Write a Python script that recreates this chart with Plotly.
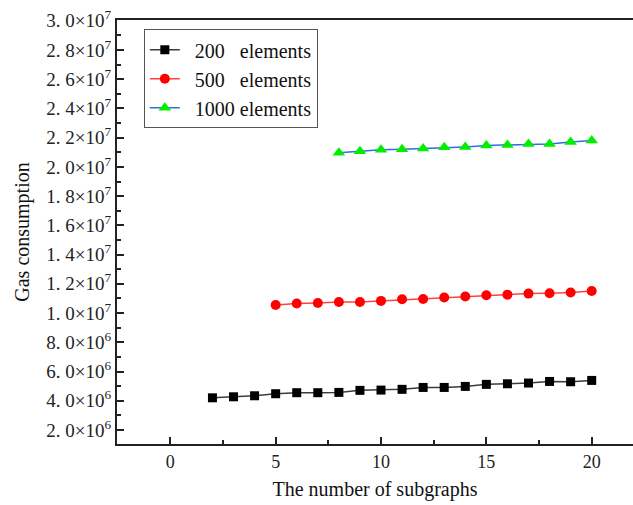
import plotly.graph_objects as go

# Data
x200 = list(range(2, 21))
y200 = [4.20e6, 4.27e6, 4.34e6, 4.48e6, 4.55e6, 4.55e6, 4.57e6, 4.71e6, 4.73e6, 4.78e6,
        4.91e6, 4.91e6, 4.98e6, 5.12e6, 5.16e6, 5.21e6, 5.32e6, 5.30e6, 5.39e6]

x500 = list(range(5, 21))
y500 = [10.55e6, 10.65e6, 10.69e6, 10.76e6, 10.76e6, 10.83e6, 10.94e6, 10.96e6,
        11.06e6, 11.13e6, 11.22e6, 11.26e6, 11.33e6, 11.35e6, 11.40e6, 11.51e6]

x1000 = list(range(8, 21))
y1000 = [20.96e6, 21.07e6, 21.18e6, 21.20e6, 21.25e6, 21.34e6, 21.36e6, 21.47e6,
         21.50e6, 21.57e6, 21.57e6, 21.71e6, 21.80e6]

NB = "\u00a0"
series_names = [NB * 2 + "200" + NB * 3 + "elements",
                NB * 2 + "500" + NB * 3 + "elements",
                NB * 2 + "1000 elements"]

x_ticks = [0, 5, 10, 15, 20]
y_ticks = [v * 1e6 for v in range(2, 31, 2)]


def sci_label(v):
    if v < 1e7:
        return f"{v/1e6:.1f}".replace(".", ". ") + "×10<sup>6</sup>"
    return f"{v/1e7:.1f}".replace(".", ". ") + "×10<sup>7</sup>"


y_ticktext = [sci_label(v) for v in y_ticks]

FONT = "Liberation Serif"

fig = go.Figure()
fig.add_trace(go.Scatter(
    x=x200, y=y200, name=series_names[0], mode="lines+markers",
    line=dict(color="#3c3c3c", width=1.5),
    marker=dict(symbol="square", size=9, color="#000000"),
))
fig.add_trace(go.Scatter(
    x=x500, y=y500, name=series_names[1], mode="lines+markers",
    line=dict(color="#ff4040", width=1.5),
    marker=dict(symbol="circle", size=10, color="#ff0000"),
))
fig.add_trace(go.Scatter(
    x=x1000, y=y1000, name=series_names[2], mode="lines+markers",
    line=dict(color="#2f6fe0", width=1.5),
    marker=dict(symbol="triangle-up", size=11, color="#00ee00"),
))

fig.update_layout(
    width=633, height=505,
    margin=dict(l=117, r=0, t=20, b=61, autoexpand=False),
    paper_bgcolor="white", plot_bgcolor="white",
    font=dict(family=FONT, size=18, color="#222222"),
    showlegend=True,
    legend=dict(
        x=0.052, y=0.978, xanchor="left", yanchor="top",
        bordercolor="#555555", borderwidth=1, bgcolor="white",
        font=dict(family=FONT, size=20, color="#111111"),
        tracegroupgap=0, itemwidth=30,
        entrywidth=150, entrywidthmode="pixels",
    ),
    xaxis=dict(
        range=[-2.53, 21.96], automargin=False,
        tickmode="array", tickvals=x_ticks,
        ticks="inside", ticklen=7, tickwidth=1.5, tickcolor="#222222",
        showline=True, linecolor="#222222", linewidth=2, mirror=True,
        showgrid=False, zeroline=False,
        minor=dict(ticks="inside", ticklen=4, tickwidth=1.5, tickcolor="#222222",
                   tick0=0, dtick=2.5, showgrid=False),
        title=dict(text="The number of subgraphs", font=dict(family=FONT, size=20, color="#111111"),
                   standoff=11),
        tickfont=dict(family=FONT, size=18, color="#222222"),
    ),
    yaxis=dict(
        range=[1.04e6, 3.005e7], automargin=False,
        tickmode="array", tickvals=y_ticks, ticktext=y_ticktext,
        ticks="inside", ticklen=7, tickwidth=1.5, tickcolor="#222222",
        showline=True, linecolor="#222222", linewidth=2, mirror=False,
        showgrid=False, zeroline=False,
        minor=dict(ticks="inside", ticklen=4, tickwidth=1.5, tickcolor="#222222",
                   tick0=0, dtick=1e6, showgrid=False),
        title=dict(text="Gas consumption", font=dict(family=FONT, size=20, color="#111111"),
                   standoff=11),
        tickfont=dict(family=FONT, size=19, color="#222222"),
    ),
)

fig.write_html(
    "out.html",
    config={"displayModeBar": False},
    post_script="document.body.style.margin='0';document.body.style.overflow='hidden';",
)
